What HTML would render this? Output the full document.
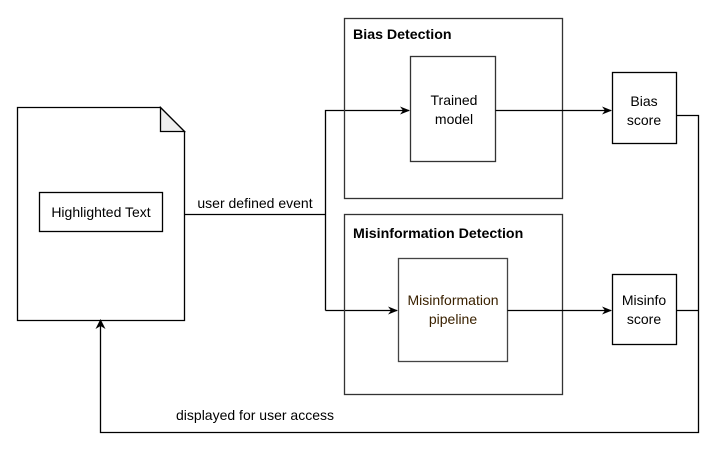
<!DOCTYPE html>
<html><head><style>html,body{margin:0;padding:0;background:#fff}</style></head><body>
<svg width="718" height="447" viewBox="0 0 718 447" xmlns="http://www.w3.org/2000/svg" font-family="Liberation Sans, Arial, sans-serif" font-size="14">
<defs><marker id="a" markerWidth="10" markerHeight="10" refX="9" refY="5" orient="auto" markerUnits="userSpaceOnUse"><path d="M0,1 L10,5 L0,9 L3,5 Z" fill="#000"/></marker></defs>
<g fill="none" stroke="#000" stroke-width="1.3">
<path d="M17.5,107.5 H160.5 L184.5,131.5 V320.5 H17.5 Z" fill="#fff"/>
<path d="M160.5,107.5 V131.5 H184.5 Z" fill="#eee"/>
<rect x="39.5" y="192.5" width="123" height="39"/>
<path d="M184.5,214.5 H325.5"/>
<path d="M325.5,310.5 V110.5 H409" marker-end="url(#a)"/>
<path d="M325.5,310.5 H397" marker-end="url(#a)"/>
<rect x="344.5" y="18.5" width="218" height="180" stroke="#333"/>
<rect x="344.5" y="214.5" width="218" height="180" stroke="#333"/>
<rect x="410.5" y="56.5" width="85" height="105" stroke="#333"/>
<rect x="398.5" y="258.5" width="109" height="103" stroke="#444"/>
<path d="M495.5,110.5 H611" marker-end="url(#a)"/>
<path d="M507.5,310.5 H611" marker-end="url(#a)"/>
<rect x="612.5" y="72.5" width="64" height="71"/>
<rect x="612.5" y="274.5" width="64" height="70"/>
<path d="M676.5,115.5 H698.5 V432.5 H100.5 V321"/>
<path d="M676.5,310.5 H698.5"/>
</g>
<path d="M100.5,319 L95.5,329 L100.5,326 L105.5,329 Z" fill="#000"/>
<g fill="#000" text-anchor="middle">
<text x="101" y="217">Highlighted Text</text>
<text x="255" y="208">user defined event</text>
<text x="454" y="105">Trained</text><text x="454" y="124">model</text>
<text x="453" y="305" fill="#3a2100">Misinformation</text><text x="453" y="324" fill="#3a2100">pipeline</text>
<text x="644" y="106">Bias</text><text x="644" y="125">score</text>
<text x="644" y="305">Misinfo</text><text x="644" y="324">score</text>
<text x="255" y="420">displayed for user access</text>
</g>
<g font-weight="bold" fill="#000" font-size="14.2">
<text x="353" y="39">Bias Detection</text>
<text x="353" y="238">Misinformation Detection</text>
</g>
</svg>
</body></html>
